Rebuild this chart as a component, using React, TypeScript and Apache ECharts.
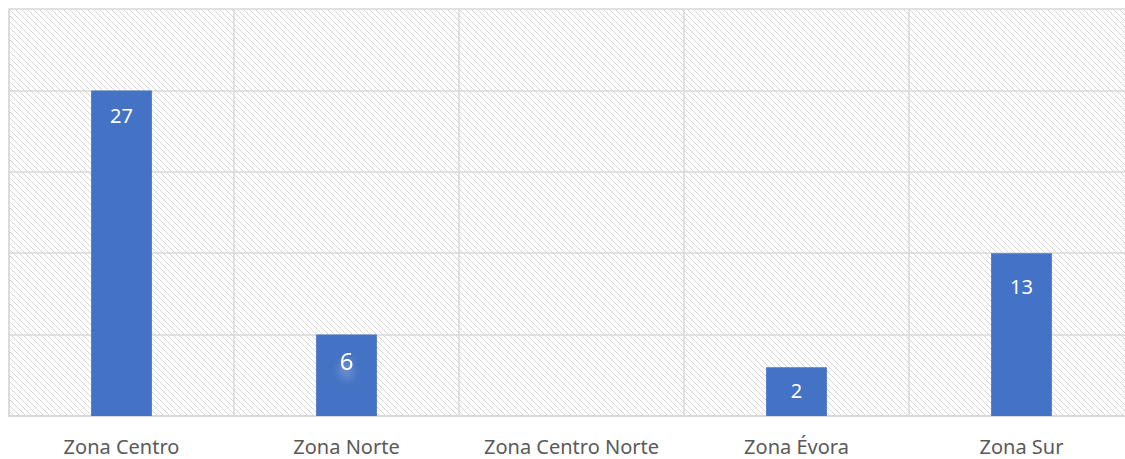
import React, { useEffect, useRef } from 'react';
import * as echarts from 'echarts';

const categories = ['Zona Centro', 'Zona Norte', 'Zona Centro Norte', 'Zona Évora', 'Zona Sur'];
// bar heights as drawn against the (hidden) value axis
const barValues = [20, 5, 0, 3, 10];
// data labels as printed on the bars
const labelValues = ['27', '6', '', '2', '13'];
const yMin = 0;
const yMax = 25;
const yInterval = 5;

const labelFontSizes = [20, 24, 20, 20, 20];
const labelDistances = [15, 14, 15, 13, 23];

function makePattern(): string {
  const n = 6;
  const c = document.createElement('canvas');
  c.width = n;
  c.height = n;
  const ctx = c.getContext('2d')!;
  ctx.fillStyle = '#ffffff';
  ctx.fillRect(0, 0, n, n);
  ctx.fillStyle = '#d6d6d6';
  for (let i = 0; i < n; i++) ctx.fillRect(i, i, 1, 1);
  return c.toDataURL();
}

export default function App() {
  const ref = useRef<HTMLDivElement>(null);
  useEffect(() => {
    if (!ref.current) return;
    const chart = echarts.init(ref.current, undefined, { renderer: 'svg' });
    const pattern = { image: makePattern(), repeat: 'repeat' };
    chart.setOption({
      animation: false,
      backgroundColor: '#ffffff',
      grid: {
        left: 9,
        top: 9,
        width: 1125,
        height: 407,
        outerBoundsMode: 'none',
        containLabel: false,
        show: true,
        backgroundColor: pattern as any,
        borderWidth: 0,
      } as any,
      xAxis: {
        type: 'category',
        data: categories,
        axisTick: { show: false },
        axisLine: { show: true, lineStyle: { color: '#d9d9d9', width: 2 } },
        axisLabel: {
          color: '#595959',
          fontSize: 20,
          fontFamily: 'Noto Sans',
          margin: 20,
          interval: 0,
        },
        splitLine: { show: true, lineStyle: { color: '#d9d9d9', width: 1.5 } },
      },
      yAxis: {
        type: 'value',
        min: yMin,
        max: yMax,
        interval: yInterval,
        axisLabel: { show: false },
        axisTick: { show: false },
        axisLine: { show: true, lineStyle: { color: '#d9d9d9', width: 1.5 } },
        splitLine: { show: true, lineStyle: { color: '#d9d9d9', width: 1.5 } },
      },
      series: [
        {
          type: 'bar',
          barWidth: '27%',
          itemStyle: { color: '#4472C4' },
          data: barValues.map((v, i) => ({
            value: v,
            label: {
              show: labelValues[i] !== '',
              position: 'insideTop',
              formatter: labelValues[i],
              color: '#ffffff',
              fontFamily: 'Noto Sans',
              fontSize: labelFontSizes[i],
              distance: labelDistances[i],
              textShadowColor: i === 1 ? 'rgba(255,255,255,0.55)' : 'transparent',
              textShadowBlur: i === 1 ? 8 : 0,
              textShadowOffsetY: i === 1 ? 8 : 0,
            },
          })),
        },
      ],
    });
    return () => chart.dispose();
  }, []);
  return (
    <div
      ref={ref}
      style={{ position: 'absolute', left: 0, top: 0, width: 1125, height: 459 }}
    />
  );
}
